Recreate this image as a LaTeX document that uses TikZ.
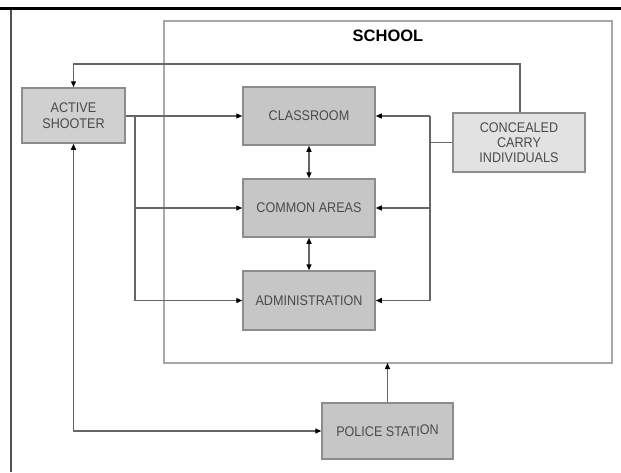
\documentclass[tikz,border=0pt]{standalone}
\usepackage{fontspec}
\setmainfont{Liberation Sans}
\newfontfamily\boxfont{Liberation Sans}[FakeStretch=0.9]
\usetikzlibrary{arrows.meta}
\definecolor{boxfill}{HTML}{C6C6C6}
\definecolor{shooterfill}{HTML}{D0D0D0}
\definecolor{ccfill}{HTML}{E2E2E2}
\definecolor{boxline}{HTML}{8C8C8C}
\definecolor{conn}{HTML}{666666}
\definecolor{txt}{HTML}{4A4A4A}
\definecolor{schoolline}{HTML}{A8A8A8}
\tikzset{
  x=1pt, y=-1pt,
  stepbox/.style={draw=boxline, line width=1.5pt, fill=boxfill, text=txt,
    minimum width=132pt, minimum height=58pt, inner sep=1pt, align=center,
    font=\boxfont\fontsize{14}{15.5}\selectfont},
  link/.style={draw=conn, line width=1.3pt},
  tip/.style={-{Triangle[length=6pt,width=5pt,color=black]}},
  tips/.style={{Triangle[length=6pt,width=5pt,color=black]}-{Triangle[length=6pt,width=5pt,color=black]}},
}
\begin{document}
\begin{tikzpicture}
\useasboundingbox (0,0) rectangle (621,472);
\fill[white] (0,0) rectangle (621,472);
% outer frame
\draw[black, line width=3pt] (0,8) -- (621,8);
\draw[conn!80!black, line width=1.5pt] (11,9.5) -- (11,472);
% school
\draw[schoolline, line width=2pt] (164,21) rectangle (612,363);
\node[font=\bfseries\fontsize{16.5}{18}\selectfont] (school) at (388,36) {SCHOOL};
\coordinate (schoolbot) at (387.5,363);
% boxes
\node[stepbox, fill=shooterfill, minimum width=103pt, minimum height=55pt] (as) at (73.5,115.5) {ACTIVE\\SHOOTER};
\node[stepbox] (cl) at (309,116) {CLASSROOM};
\node[stepbox] (ca) at (309,208) {COMMON AREAS};
\node[stepbox, minimum height=59pt] (ad) at (309,300.5) {ADMINISTRATION};
\node[stepbox, fill=ccfill, minimum width=132pt, minimum height=59pt, font=\boxfont\fontsize{14}{15}\selectfont] (cc) at (519,142.5) {CONCEALED\\CARRY\\INDIVIDUALS};
\node[stepbox, minimum width=131pt, minimum height=56pt] (ps) at (387.5,431) {POLICE STATI\raisebox{2pt}{ON}};
% concealed carry -> active shooter over the top
\coordinate (ccup) at (520,64);
\coordinate (asup) at (73.5,64);
\draw[link, tip] (cc.north -| ccup) -- (ccup) -- (asup) -- (as.north);
% active shooter -> rooms
\coordinate (asj) at (135,116);
\draw[link, tip] (as.east |- cl.west) -- (cl.west);
\draw[link] (asj) -- (135,300.5);
\draw[link, tip] (135,208) -- (ca.west);
\draw[link, tip] (135,300.5) -- (ad.west);
% concealed carry -> rooms
\coordinate (ccj) at (430,142.5);
\draw[link] (cc.west) -- (ccj);
\draw[link] (430,116) -- (430,300.5);
\draw[link, tip] (430,116) -- (cl.east);
\draw[link, tip] (430,208) -- (ca.east);
\draw[link, tip] (430,300.5) -- (ad.east);
% between rooms
\draw[link, tips] (cl.south) -- (ca.north);
\draw[link, tips] (ca.south) -- (ad.north);
% police station
\draw[link, tip] (ps.north) -- (schoolbot);
\coordinate (pscorner) at (73.5,431);
\draw[link, tips] (as.south) -- (pscorner) -- (ps.west);
\end{tikzpicture}
\end{document}
